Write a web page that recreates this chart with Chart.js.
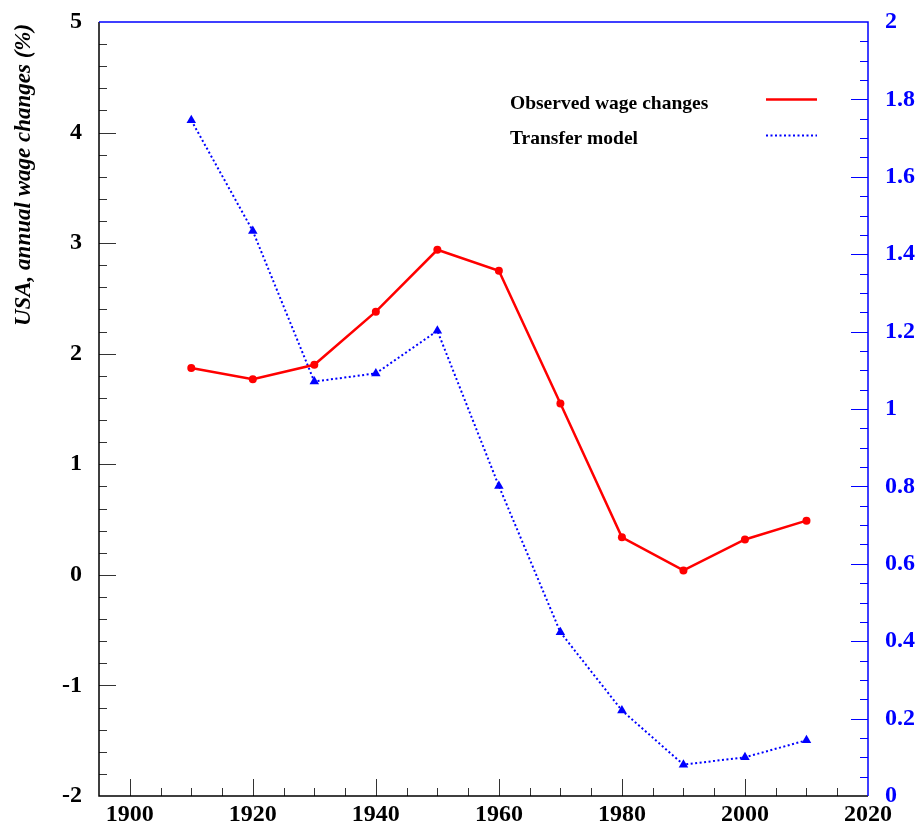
<!DOCTYPE html>
<html>
<head>
<meta charset="utf-8">
<script src="https://cdn.jsdelivr.net/npm/chart.js@4/dist/chart.umd.min.js"></script>
<style>
html,body{margin:0;padding:0;background:#fff;}
canvas{display:block;}
</style>
</head>
<body>
<canvas id="c" width="920" height="823"></canvas>
<script>
// ---- data ----
const years = [1910, 1920, 1930, 1940, 1950, 1960, 1970, 1980, 1990, 2000, 2010];
const observedWage = [1.87, 1.77, 1.90, 2.38, 2.94, 2.75, 1.55, 0.34, 0.04, 0.32, 0.49];
const transferModel = [1.746, 1.46, 1.071, 1.092, 1.202, 0.801, 0.423, 0.221, 0.081, 0.100, 0.144];
const xTickLabels = [1900, 1920, 1940, 1960, 1980, 2000, 2020];
const leftTickLabels = [-2, -1, 0, 1, 2, 3, 4, 5];
const rightTickLabels = ['0', '0.2', '0.4', '0.6', '0.8', '1', '1.2', '1.4', '1.6', '1.8', '2'];
const seriesNames = ['Observed wage changes', 'Transfer model'];
const yTitle = 'USA, annual wage changes (%)';

const SERIF = '"Liberation Serif", "Times New Roman", serif';
const BLUE = '#0000ff';
const RED = '#ff0000';

const framePlugin = {
  id: 'frame',
  afterDatasetsDraw(chart) {
    const ctx = chart.ctx;
    const a = chart.chartArea;
    const xs = chart.scales.x, yl = chart.scales.yL, yr = chart.scales.yR;
    ctx.save();
    ctx.lineWidth = 1;
    // left axis ticks
    ctx.strokeStyle = '#333';
    ctx.beginPath();
    for (let i = 1; i < 35; i++) {
      const v = -2 + i * 0.2;
      const y = Math.round(yl.getPixelForValue(v)) + 0.5;
      const len = (i % 5 === 0) ? 17 : 8;
      ctx.moveTo(a.left, y); ctx.lineTo(a.left + len, y);
    }
    // bottom axis ticks
    for (let i = 1; i < 25; i++) {
      const v = 1895 + i * 5;
      const x = Math.round(xs.getPixelForValue(v)) + 0.5;
      const len = (v % 20 === 0) ? 17 : 8;
      ctx.moveTo(x, a.bottom); ctx.lineTo(x, a.bottom - len);
    }
    ctx.stroke();
    // left + bottom axis lines
    ctx.strokeStyle = '#000';
    ctx.lineWidth = 1.5;
    ctx.beginPath();
    ctx.moveTo(a.left, a.top); ctx.lineTo(a.left, a.bottom); ctx.lineTo(a.right, a.bottom);
    ctx.stroke();
    // right axis ticks
    ctx.strokeStyle = BLUE;
    ctx.lineWidth = 1;
    ctx.beginPath();
    for (let i = 1; i < 40; i++) {
      const v = i * 0.05;
      const y = Math.round(yr.getPixelForValue(v)) + 0.5;
      const len = (i % 4 === 0) ? 17 : 8;
      ctx.moveTo(a.right, y); ctx.lineTo(a.right - len, y);
    }
    ctx.stroke();
    ctx.lineWidth = 1.5;
    ctx.beginPath();
    ctx.moveTo(a.left, a.top); ctx.lineTo(a.right, a.top); ctx.lineTo(a.right, a.bottom);
    ctx.stroke();

    // y title
    ctx.fillStyle = '#000';
    ctx.font = 'italic bold 23px ' + SERIF;
    ctx.textAlign = 'center';
    ctx.textBaseline = 'middle';
    ctx.translate(24, 175);
    ctx.rotate(-Math.PI / 2);
    ctx.fillText(yTitle, 0, 0);
    ctx.setTransform(1, 0, 0, 1, 0, 0);

    // legend
    ctx.font = 'bold 19.5px ' + SERIF;
    ctx.textAlign = 'left';
    ctx.textBaseline = 'middle';
    ctx.fillText(seriesNames[0], 510, 104);
    ctx.fillText(seriesNames[1], 510, 139);
    ctx.strokeStyle = RED;
    ctx.lineWidth = 2.5;
    ctx.beginPath(); ctx.moveTo(766, 99.5); ctx.lineTo(817, 99.5); ctx.stroke();
    ctx.strokeStyle = BLUE;
    ctx.lineWidth = 2;
    ctx.setLineDash([2, 2.5]);
    ctx.beginPath(); ctx.moveTo(766, 135.5); ctx.lineTo(817, 135.5); ctx.stroke();
    ctx.restore();
  }
};

const tickFont = { family: SERIF, size: 24, weight: 'bold' };
const noGrid = { display: false, drawTicks: false };

new Chart(document.getElementById('c'), {
  type: 'line',
  data: {
    datasets: [
      {
        label: seriesNames[0],
        data: years.map((x, i) => ({ x, y: observedWage[i] })),
        yAxisID: 'yL',
        borderColor: RED,
        backgroundColor: RED,
        borderWidth: 2.5,
        pointRadius: 4,
        pointStyle: 'circle',
        pointBorderWidth: 0,
        tension: 0,
        fill: false
      },
      {
        label: seriesNames[1],
        data: years.map((x, i) => ({ x, y: transferModel[i] })),
        yAxisID: 'yR',
        borderColor: BLUE,
        backgroundColor: BLUE,
        borderWidth: 2,
        borderDash: [2, 2.5],
        pointRadius: 5.5,
        pointStyle: 'triangle',
        pointBorderWidth: 0,
        tension: 0,
        fill: false
      }
    ]
  },
  options: {
    responsive: false,
    animation: false,
    devicePixelRatio: 1,
    layout: { padding: { top: 22, left: 0, right: 0, bottom: 0 } },
    plugins: { legend: { display: false }, tooltip: { enabled: false } },
    scales: {
      x: {
        type: 'linear',
        min: 1895, max: 2020,
        grid: noGrid,
        border: { display: false },
        afterBuildTicks: s => { s.ticks = xTickLabels.map(v => ({ value: v })); },
        afterFit: s => { s.height = 27; s.paddingLeft = 0; s.paddingRight = 0; },
        ticks: { color: '#000', font: tickFont, padding: 4, maxRotation: 0, autoSkip: false, callback: v => String(v) }
      },
      yL: {
        type: 'linear', position: 'left',
        min: -2, max: 5,
        grid: noGrid,
        border: { display: false },
        afterBuildTicks: s => { s.ticks = leftTickLabels.map(v => ({ value: v })); },
        afterFit: s => { s.width = 99; s.paddingTop = 0; s.paddingBottom = 0; },
        ticks: { color: '#000', font: tickFont, padding: 17, autoSkip: false, callback: v => String(v) }
      },
      yR: {
        type: 'linear', position: 'right',
        min: 0, max: 2,
        grid: noGrid,
        border: { display: false },
        afterBuildTicks: s => { s.ticks = rightTickLabels.map(v => ({ value: parseFloat(v) })); },
        afterFit: s => { s.width = 52; s.paddingTop = 0; s.paddingBottom = 0; },
        ticks: { color: BLUE, font: tickFont, padding: 17, autoSkip: false,
                 callback: (v, i) => rightTickLabels[i] }
      }
    }
  },
  plugins: [framePlugin]
});
</script>
</body>
</html>
